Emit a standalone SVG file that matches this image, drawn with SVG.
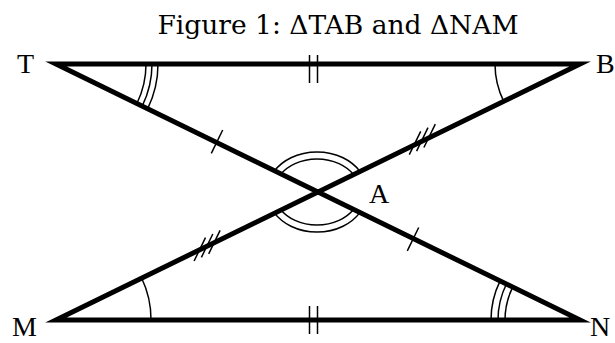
<svg xmlns="http://www.w3.org/2000/svg" width="615" height="343" viewBox="0 0 615 343">
<style>
.edge{fill:none;stroke:#000;stroke-width:5;stroke-linejoin:miter;stroke-miterlimit:12}
.mark{fill:none;stroke:#000;stroke-width:1.5}
.lbl{font-family:"Liberation Serif","Times New Roman",serif;font-size:28px;fill:#000}
.title{font-family:"DejaVu Serif",serif;font-size:26.5px;fill:#000}
</style>
<rect width="615" height="343" fill="#fff"/>
<text class="title" x="338" y="34" text-anchor="middle">Figure 1: ΔTAB and ΔNAM</text>
<g id="connectors">
<path class="edge" d="M56,64 L580,64 L56,320 L580,320 Z"/>
</g>
<g id="ticks" class="mark">
<path d="M309.5,55 V83 M317.5,55 V83"/>
<path d="M309.5,306 V334 M317.5,306 V334"/>
<path d="M211.3,153.4 l11.4,-23.4"/>
<path d="M407.3,250.9 l11.4,-23.4"/>
<path d="M409.3,154.7 l11.4,-23.4 M416.6,151.1 l11.4,-23.4 M423.9,147.5 l11.4,-23.4"/>
<path d="M194.1,261 l11.4,-23.4 M201.4,257.4 l11.4,-23.4 M208.7,253.8 l11.4,-23.4"/>
</g>
<g id="node-T">
<text class="lbl" x="17" y="73">T</text>
<path class="mark" d="M146,64 A90,90 0 0 1 136.9,103.5 M152,64 A96,96 0 0 1 142.2,106.1 M158,64 A102,102 0 0 1 147.6,108.8"/>
</g>
<g id="node-B">
<text class="lbl" x="596" y="73">B</text>
<path class="mark" d="M495,64 A85,85 0 0 0 503.7,101.3"/>
</g>
<g id="node-M">
<text class="lbl" x="12" y="336">M</text>
<path class="mark" d="M151,320 A95,95 0 0 0 141.7,278.3"/>
</g>
<g id="node-N">
<text class="lbl" x="590" y="336">N</text>
<path class="mark" d="M505,320 A75,75 0 0 1 512.7,287.1 M498,320 A82,82 0 0 1 506.4,284 M491,320 A89,89 0 0 1 500.1,280.9"/>
</g>
<g id="node-A">
<text class="lbl" x="369" y="203">A</text>
<path class="mark" d="M274.3,171.1 A50,40 0 0 1 359.7,171.1 M280.7,174.3 A43,33 0 0 1 353.3,174.3"/>
<path class="mark" d="M274.3,212.9 A50,40 0 0 0 359.7,212.9 M280.7,209.7 A43,33 0 0 0 353.3,209.7"/>
</g>
</svg>
